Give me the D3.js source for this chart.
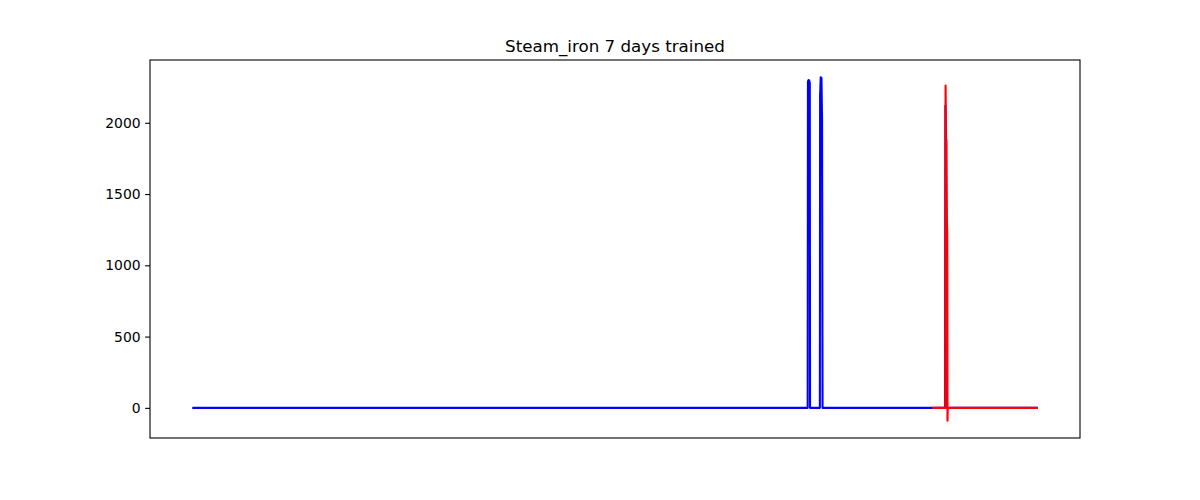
<!DOCTYPE html>
<html><head><meta charset="utf-8">
<script src="https://cdn.jsdelivr.net/npm/d3@7"></script>
<style>body{margin:0;background:#fff}svg{font-family:"DejaVu Sans",sans-serif}</style>
</head><body><svg id="c" width="1200" height="500"></svg>
<script>
const title = "Steam_iron 7 days trained";
const yTicks = [0, 500, 1000, 1500, 2000];
// blue series: sample index / value breakpoints
const blueX = [0, 727.9, 728.2, 729.0, 729.8, 730.4, 730.7, 742.3, 742.6, 743.3, 744.2, 744.9, 745.3, 745.5, 890.4, 890.8, 891.3, 891.8, 892.3, 892.6, 1000];
const blueY = [0, 0, 2290, 2300, 2295, 2280, 0, 0, 2190, 2320, 2315, 2030, 680, 0, 0, 2119, 1530, 1210, 250, 0, 0];
// red series
const redX = [875, 890.6, 891.0, 891.6, 892.1, 892.6, 893.0, 893.3, 893.6, 893.9, 1000];
const redY = [0, 0, 2262, 1870, 1880, 1300, 1220, -91, 0, 0, 0];

const svg = d3.select("#c");
const L = 150, R = 1080, T = 60, B = 438;
const LW = 1.5 * 100 / 72;
const allX = blueX.concat(redX), allY = blueY.concat(redY);
const xmin = d3.min(allX), xmax = d3.max(allX);
const ymin = d3.min(allY), ymax = d3.max(allY);
const xp = (xmax - xmin) * 0.05, yp = (ymax - ymin) * 0.05;
const x = d3.scaleLinear().domain([xmin - xp, xmax + xp]).range([L, R]);
const y = d3.scaleLinear().domain([ymin - yp, ymax + yp]).range([B, T]);

const line = d3.line().x(d => x(d[0])).y(d => y(d[1]));
svg.append("path").datum(blueX.map((v, i) => [v, blueY[i]]))
  .attr("d", line).attr("fill", "none").attr("stroke", "#0000ff").attr("stroke-width", LW).attr("stroke-linejoin", "round");
svg.append("path").datum(redX.map((v, i) => [v, redY[i]]))
  .attr("d", line).attr("fill", "none").attr("stroke", "#ff0000").attr("stroke-width", LW).attr("stroke-linejoin", "round");

const ya = svg.append("g").attr("transform", `translate(${L},0)`)
  .call(d3.axisLeft(y).tickValues(yTicks).tickSize(4.9).tickPadding(4.5).tickFormat(d3.format("d")));
ya.select(".domain").remove();
ya.selectAll("text").attr("font-size", "13.9px").attr("fill", "#000").attr("font-family", "DejaVu Sans");
ya.selectAll("line").attr("stroke", "#000").attr("stroke-width", 1.1);

svg.append("rect").attr("x", L).attr("y", T).attr("width", R - L).attr("height", B - T)
  .attr("fill", "none").attr("stroke", "#000").attr("stroke-width", 1.1);

svg.append("text").attr("x", (L + R) / 2).attr("y", 52).attr("text-anchor", "middle")
  .attr("font-size", "16.7px").attr("fill", "#000").text(title);
</script></body></html>
